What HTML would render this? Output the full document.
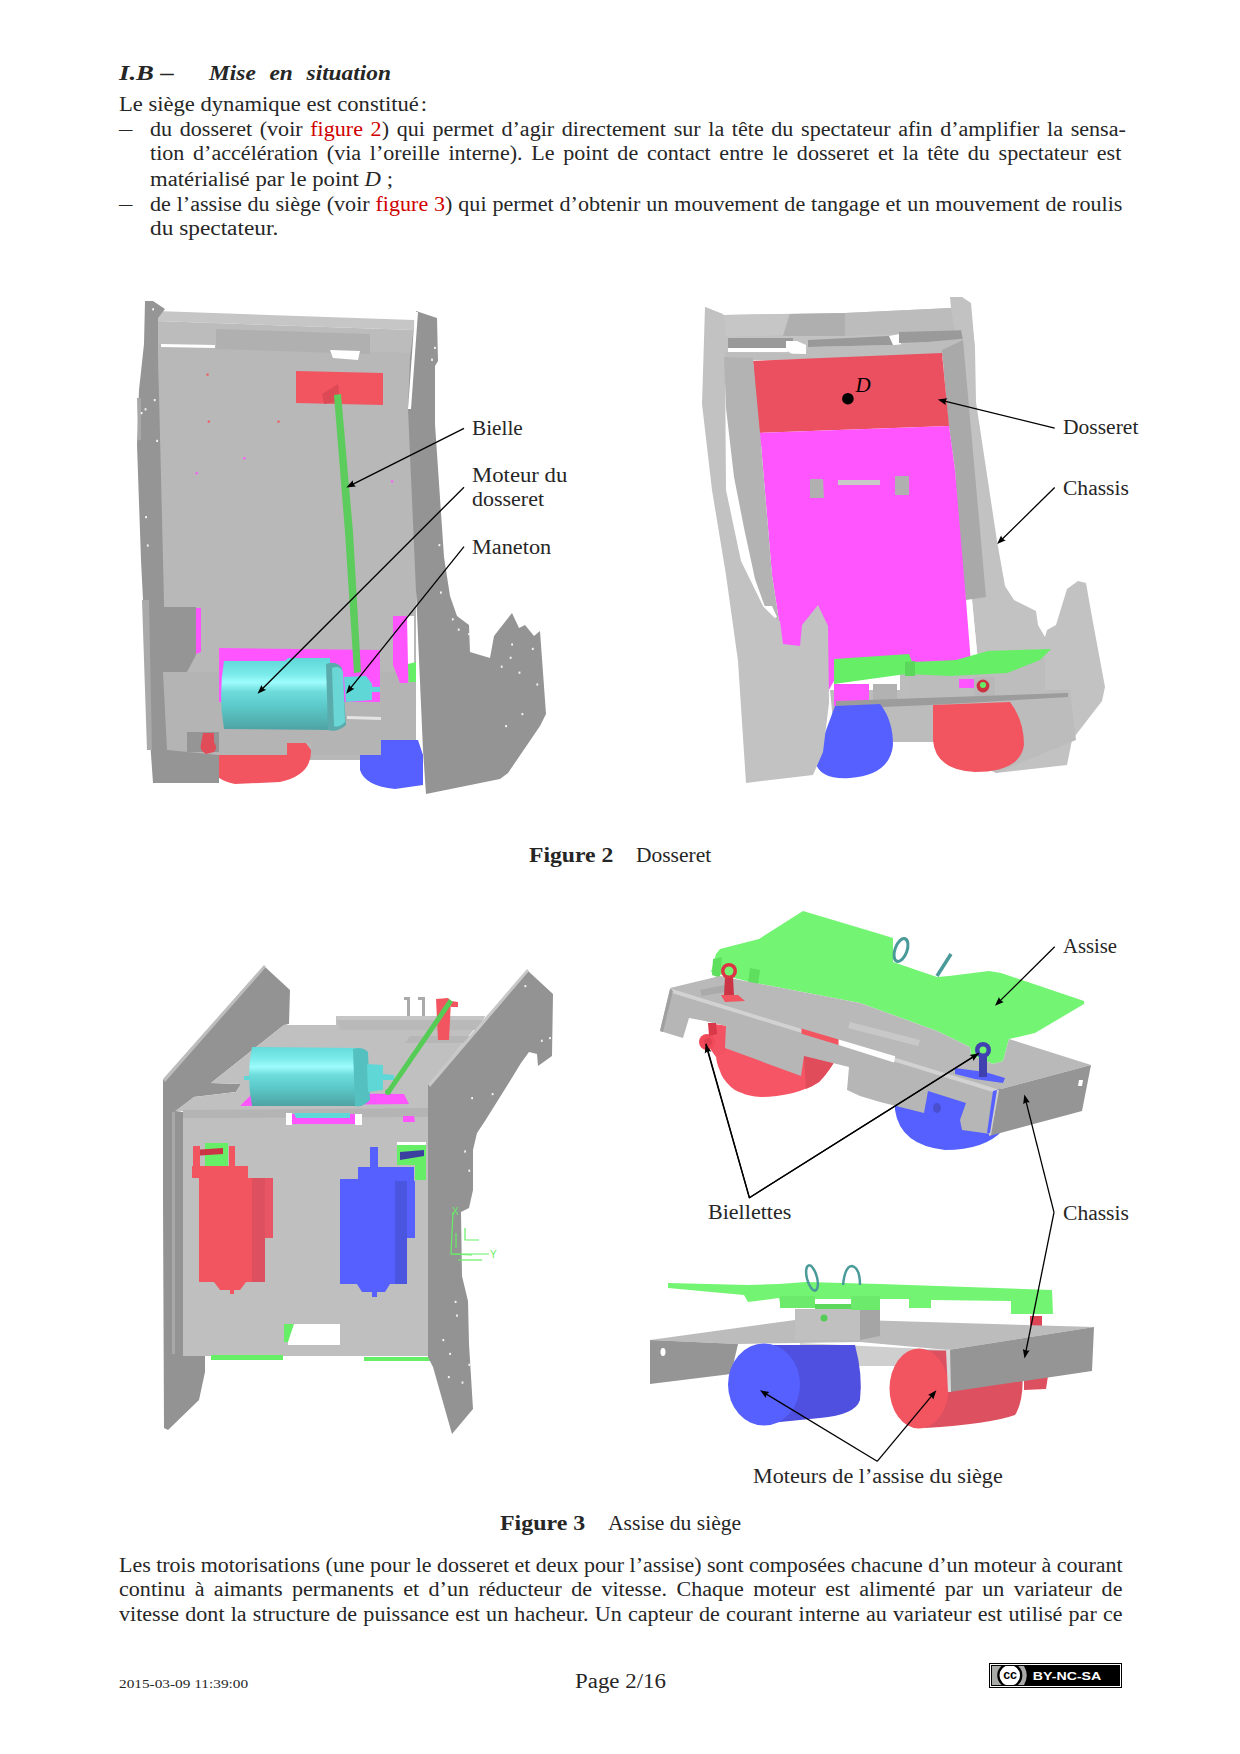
<!DOCTYPE html>
<html><head><meta charset="utf-8"><style>
html,body{margin:0;padding:0;background:#fff;}
body{width:1240px;height:1754px;position:relative;overflow:hidden;font-family:"Liberation Serif",serif;color:#262626;}
.t{position:absolute;white-space:nowrap;line-height:1;transform-origin:0 0;}
.bi{font-weight:bold;font-style:italic;}
.sp{word-spacing:3px;}
.r{color:#d00000;}
.cc{position:absolute;left:989px;top:1663px;width:133px;height:25px;background:#000;}
svg{position:absolute;left:0;top:0;}
</style></head><body>
<svg width="1240" height="1754" viewBox="0 0 1240 1754"><defs>
<linearGradient id="cy1" gradientUnits="userSpaceOnUse" x1="0" y1="660" x2="0" y2="730">
<stop offset="0" stop-color="#62d9d9"/><stop offset="0.2" stop-color="#7aeaea"/><stop offset="0.32" stop-color="#9dfcfc"/><stop offset="0.45" stop-color="#6fdcdc"/><stop offset="0.65" stop-color="#5ccaca"/><stop offset="1" stop-color="#4fa3a3"/></linearGradient>
<linearGradient id="cy2" gradientUnits="userSpaceOnUse" x1="0" y1="1046" x2="0" y2="1106">
<stop offset="0" stop-color="#62d9d9"/><stop offset="0.2" stop-color="#7aeaea"/><stop offset="0.35" stop-color="#9dfcfc"/><stop offset="0.48" stop-color="#6fdcdc"/><stop offset="0.68" stop-color="#5ccaca"/><stop offset="1" stop-color="#4fa3a3"/></linearGradient>
</defs>
<polygon fill="#b8b8b8" points="158,343 416,352 416,760 160,760"/>
<polygon fill="#c6c6c6" points="157,311 414,320 414,330 157,321"/>
<polygon fill="#bcbcbc" points="157,321 414,330 414,353 157,344"/>
<polygon fill="#b0b0b0" points="216,329 370,334 370,354 216,349"/>
<polygon fill="#fff" points="161,344 215,345 215,348 161,347"/>
<polygon fill="#fff" points="330,350 360,351 358,360 333,358"/>
<path fill="#f25560" d="M200,735 L215,733 L225,742 L305,742 L311,750 Q312,775 280,782 L235,784 Q212,780 208,760 Z"/>
<path fill="#5560ff" d="M360,755 L375,755 L376,740 L418,740 L423,755 L423,785 L395,789 Q365,786 360,770 Z"/>
<polygon fill="#959595" points="145,301 153,301 165,309 158,318 158,352 163,560 167,732 219,732 219,783 153,783 150,740 141,560 137,445 139,390 144,344"/>
<polygon fill="#a8a8a8" points="137,398 141,398 141,440 138,440"/>
<polygon fill="#a9a9a9" points="142,600 149,600 152,750 147,750"/>
<polygon fill="#b4b4b4" points="163,672 416,672 416,740 381,740 381,755 311,755 311,743 287,743 287,755 219,755 167,750"/>
<polygon fill="#959595" points="164,607 196,607 196,655 187,672 164,672"/>
<polygon fill="#959595" points="187,732 219,732 219,752 187,752"/>
<polygon fill="#b4b4b4" points="167,732 187,732 187,750 167,750"/>
<path fill="#e04c58" d="M203,733 L214,733 L214,742 Q218,748 214,752 L206,754 Q199,750 201,744 Z"/>
<polygon fill="#ff55ff" points="196,608 201,608 201,652 196,654"/>
<polygon fill="#ff55ff" points="219,648 380,650 380,702 219,702"/>
<polygon fill="#ff55ff" points="393,616 408,616 408,683 400,683 393,665"/>
<polygon fill="#fff" points="407,616 414,616 414,665 408,665"/>
<polygon fill="#66ee66" points="408,664 416,662 416,682 409,682"/>
<polygon fill="#f25560" points="296,371 383,373 383,405 296,403"/>
<polygon fill="#dd4a55" points="322,394 338,384 340,401 324,404"/>
<polygon fill="#5ccc5c" points="334,395 341,394 353,532 361,672 354,673 345,532"/>
<path fill="url(#cy1)" d="M224,661 L285,661 L288,658 L330,658 L332,730 L224,729 Q218,696 224,661 Z"/>
<path fill="#5aacac" d="M326,664 Q336,660 342,668 L346,725 Q337,733 328,730 Z"/>
<path fill="#6ad6d6" d="M332,668 Q340,665 343,672 L345,722 Q339,728 334,726 Z"/>
<polygon fill="#5fd7d7" points="344,677 366,676 372,684 372,700 346,702"/>
<polygon fill="#5fd7d7" points="346,686 380,687 380,692 346,692"/>
<polygon fill="#e4e4e4" points="347,716 381,717 381,720 347,719"/>
<polygon fill="#949494" points="416,311 437,318 438,361 435,366 435,424 444,557 450,596 457,616 469,625 470,652 490,658 494,636 512,613 519,628 525,625 534,636 540,631 546,714 540,726 508,773 500,779 426,794 423,750 408,409 410,358"/>
<polygon fill="#fff" points="415,312 418,312 411,409 408,409"/>
<rect x="431.1" y="358.7" width="1.8" height="2.2" fill="#f4f4f4"/>
<rect x="434.1" y="346.8" width="1.8" height="2.2" fill="#f4f4f4"/>
<rect x="438.5" y="544.0" width="1.8" height="2.2" fill="#f4f4f4"/>
<rect x="440.0" y="591.5" width="1.8" height="2.2" fill="#f4f4f4"/>
<rect x="451.9" y="618.2" width="1.8" height="2.2" fill="#f4f4f4"/>
<rect x="457.8" y="628.6" width="1.8" height="2.2" fill="#f4f4f4"/>
<rect x="468.2" y="633.0" width="1.8" height="2.2" fill="#f4f4f4"/>
<rect x="511.2" y="643.4" width="1.8" height="2.2" fill="#f4f4f4"/>
<rect x="509.7" y="656.7" width="1.8" height="2.2" fill="#f4f4f4"/>
<rect x="531.9" y="647.8" width="1.8" height="2.2" fill="#f4f4f4"/>
<rect x="521.5" y="713.0" width="1.8" height="2.2" fill="#f4f4f4"/>
<rect x="505.2" y="725.0" width="1.8" height="2.2" fill="#f4f4f4"/>
<rect x="500.8" y="665.6" width="1.8" height="2.2" fill="#f4f4f4"/>
<rect x="536.4" y="683.4" width="1.8" height="2.2" fill="#f4f4f4"/>
<rect x="518.6" y="671.6" width="1.8" height="2.2" fill="#f4f4f4"/>
<rect x="152.2" y="308.2" width="1.8" height="2.2" fill="#f4f4f4"/>
<rect x="153.8" y="399.0" width="1.8" height="2.2" fill="#f4f4f4"/>
<rect x="144.6" y="408.2" width="1.8" height="2.2" fill="#f4f4f4"/>
<rect x="140.7" y="412.0" width="1.8" height="2.2" fill="#f4f4f4"/>
<rect x="156.2" y="439.8" width="1.8" height="2.2" fill="#f4f4f4"/>
<rect x="145.2" y="516.0" width="1.8" height="2.2" fill="#f4f4f4"/>
<rect x="146.9" y="544.4" width="1.8" height="2.2" fill="#f4f4f4"/>
<rect x="206.4" y="373.6" width="2.2" height="2" fill="#f25560"/>
<rect x="207.7" y="420.6" width="2.2" height="2" fill="#f25560"/>
<rect x="277.4" y="420.6" width="2.2" height="2" fill="#f25560"/>
<rect x="243.3" y="457.3" width="2.2" height="2" fill="#ff55ff"/>
<rect x="195.6" y="472.2" width="2.2" height="2" fill="#ff55ff"/>
<rect x="391.0" y="480.5" width="2.2" height="2" fill="#ff55ff"/>
<polygon fill="#c2c2c2" points="705,307 724,315 845,313 951,308 950,297 962,297 971,303 975,349 725,358"/>
<polygon fill="#c6c6c6" points="724,315 787,314 784,335 726,337"/>
<polygon fill="#afafaf" points="790,314 845,313 845,336 783,336"/>
<polygon fill="#bcbcbc" points="845,313 951,308 955,332 845,336"/>
<polygon fill="#9a9a9a" points="728,338 793,338 793,348 728,348"/>
<polygon fill="#fff" points="728,348 786,348 788,352 728,352"/>
<polygon fill="#fff" points="786,341 797,341 806,345 806,354 792,354 786,350"/>
<polygon fill="#999999" points="808,340 888,336 894,337 894,345 808,347"/>
<polygon fill="#fff" points="889,336 900,334 901,345 893,345"/>
<polygon fill="#9a9a9a" points="899,332 971,330 971,338 960,341 899,343"/>
<polygon fill="#bdbdbd" points="725,352 806,354 808,347 894,345 971,338 975,349 975,356 725,361"/>
<polygon fill="#c2c2c2" points="951,297 970,303 975,349 976,402 997,541 1005,586 1014,600 1036,611 1038,625 1045,637 1047,630 1056,625 1067,589 1078,581 1086,583 1092,617 1105,687 1102,701 1072,740 1067,765 996,773 990,700 977,652 972,600 963,340 955,300"/>
<polygon fill="#a9a9a9" points="942,350 963,340 986,597 966,600 960,560 955,470 948,420"/>
<polygon fill="#fff" points="966,600 972,600 977,652 971,652"/>
<polygon fill="#c2c2c2" points="985,599 991,599 994,652 988,652"/>
<polygon fill="#bcbcbc" points="830,690 1070,690 1076,740 996,773 933,742 835,742"/>
<polygon fill="#ea5060" points="753,361 942,353 949,426 758,433"/>
<polygon fill="#ff55ff" points="758,433 949,426 955,470 966,600 971,664 840,670 820,706 770,706 779,621 772,575 761,444"/>
<polygon fill="#b0b0b0" points="810,479 823,479 824,498 810,498"/>
<polygon fill="#b0b0b0" points="895,476 909,476 909,495 895,495"/>
<polygon fill="#c8c8c8" points="838,480 880,480 880,485 838,485"/>
<polygon fill="#bdbdbd" points="900,672 1045,658 1045,700 900,700"/>
<polygon fill="#66ee66" points="834,659 909,654 912,662 956,660 988,651 1051,649 1040,660 1007,673 950,676 906,674 834,684"/>
<polygon fill="#5bd85b" points="905,662 915,661 915,676 905,676"/>
<polygon fill="#bcbcbc" points="909,676 958,676 960,700 909,700"/>
<polygon fill="#ff55ff" points="959,679 974,679 974,688 959,688"/>
<polygon fill="#b8b8b8" points="974,677 995,677 995,698 974,698"/>
<polygon fill="#b2b2b2" points="873,684 897,684 897,700 873,700"/>
<polygon fill="#ff55ff" points="834,684 869,684 869,706 834,706"/>
<polygon fill="#9c9c9c" points="836,701 1068,693 1068,697 930,705 836,709"/>
<path fill="#5560ff" d="M835,706 L880,704 Q893,720 893,745 Q890,775 850,778 Q818,780 815,760 Z"/>
<path fill="#f25560" d="M933,705 L1010,702 Q1024,720 1024,745 Q1020,772 975,772 Q935,770 933,740 Z"/>
<circle cx="983" cy="686" r="6.4" fill="#cc3340"/><circle cx="983" cy="685" r="3" fill="#66ee66"/>
<polygon fill="#c2c2c2" points="705,307 723,314 725,358 726,490 741,561 763,606 775,618 780,621 783,644 800,646 802,625 818,605 828,626 829,703 823,752 813,775 746,783 738,661 726,575 712,490 702,404"/>
<polygon fill="#b3b3b3" points="724,357 753,358 761,444 772,575 779,621 775,618 765,607 755,579 744,528 734,477 726,408"/>
<polygon fill="#fff" points="763,606 772,606 777,617 775,618"/>
<circle cx="847.9" cy="398.7" r="5.8" fill="#000"/>
<text x="855.5" y="392" font-family="Liberation Serif" font-style="italic" font-size="21" fill="#000">D</text>
<polygon fill="#939393" points="264,966 290,990 289,1024 284,1025 211,1083 241,1084 236,1092 194,1097 176,1111 183,1112 183,1354 205,1354 205,1372 199,1400 168,1430 164,1428 163,1200 163,1080"/>
<polygon fill="#bdbdbd" points="163,1079 264,965 266,967 165,1082"/>
<polygon fill="#a8a8a8" points="172,1112 175,1112 175,1354 172,1354"/>
<polygon fill="#c0c0c0" points="175,1111 194,1097 236,1092 241,1084 211,1083 284,1025 336,1025 336,1016 485,1016 429,1085 429,1112"/>
<polygon fill="#b9b9b9" points="336,1016 485,1016 478,1030 340,1030"/>
<polygon fill="#c6c6c6" points="336,1016 485,1016 483,1020 337,1020"/>
<polygon fill="#b6b6b6" points="410,1036 470,1036 465,1043 405,1043"/>
<polygon fill="#aaaaaa" points="404,997 410,997 410,1016 407,1016 407,1000 404,1000"/>
<polygon fill="#aaaaaa" points="418,997 425,997 425,1016 422,1016 422,1000 418,1000"/>
<polygon fill="#f25560" points="436,999 448,998 451,1001 449,1040 438,1040"/>
<polygon fill="#f25560" points="451,1001 458,1002 458,1007 451,1007"/>
<polygon fill="#bfbfbf" points="183,1112 429,1112 429,1356 183,1356"/>
<polygon fill="#b4b4b4" points="183,1110 429,1108 429,1117 183,1118"/>
<polygon fill="#fff" points="288,1324 340,1324 340,1345 288,1345"/>
<polygon fill="#66ee66" points="284,1324 294,1324 288,1342 284,1342"/>
<polygon fill="#66ee66" points="211,1355 283,1355 283,1360 211,1360"/>
<polygon fill="#66ee66" points="364,1357 430,1357 430,1361 364,1361"/>
<polygon fill="#ff55ff" points="240,1106 253,1093 404,1094 409,1104"/>
<polygon fill="#ff55ff" points="289,1114 360,1114 357,1124 291,1124"/>
<polygon fill="#5fd7d7" points="294,1113 350,1113 350,1118 296,1118"/>
<polygon fill="#fff" points="286,1113 292,1113 292,1125 286,1125"/>
<polygon fill="#fff" points="355,1114 362,1114 362,1125 355,1125"/>
<polygon fill="#ff55ff" points="403,1116 414,1116 415,1122 403,1122"/>
<path fill="url(#cy2)" d="M252,1047 L360,1048 L362,1106 L252,1106 Q246,1076 252,1047 Z"/>
<path fill="#55c0c0" d="M353,1049 Q362,1046 368,1052 L370,1100 Q362,1108 355,1106 Z"/>
<polygon fill="#5fd7d7" points="367,1064 383,1065 383,1090 368,1092"/>
<polygon fill="#5fd7d7" points="383,1074 394,1075 394,1080 383,1080"/>
<polygon fill="#5fd7d7" points="244,1076 250,1076 250,1080 244,1080"/>
<polygon fill="#55cc55" points="449,999 453,1002 390,1094 386,1091"/>
<circle cx="388" cy="1092" r="3" fill="#55cc55"/>
<polygon fill="#939393" points="527,970 553,994 552,1056 538,1066 537,1054 529,1052 521,1063 510,1081 485,1121 477,1133 473,1150 469,1168 473,1150 473,1190 469,1208 461,1212 462,1276 468,1301 469,1344 473,1409 452,1434 433,1367 428,1357 428,1085"/>
<polygon fill="#c8c8c8" points="428,1084 527,969 529,971 430,1087"/>
<polygon fill="#f25560" points="192,1166 248,1166 248,1178 192,1178"/>
<polygon fill="#f25560" points="199,1178 265,1178 265,1282 199,1282"/>
<polygon fill="#dd5060" points="252,1178 265,1178 265,1282 252,1282"/>
<polygon fill="#e85565" points="265,1178 273,1178 273,1238 265,1238"/>
<polygon fill="#f25560" points="229,1146 235,1146 235,1166 229,1166"/>
<polygon fill="#f25560" points="214,1282 246,1282 240,1290 220,1290"/>
<polygon fill="#f25560" points="230,1282 234,1282 234,1294 230,1294"/>
<polygon fill="#66ee66" points="205,1143 228,1143 228,1166 205,1166"/>
<polygon fill="#cc3344" points="193,1150 223,1148 223,1154 193,1156"/>
<polygon fill="#f25560" points="193,1146 200,1146 200,1166 193,1166"/>
<polygon fill="#5560ff" points="358,1167 414,1167 414,1181 358,1181"/>
<polygon fill="#5560ff" points="340,1179 407,1179 407,1284 340,1284"/>
<polygon fill="#4a55e0" points="395,1181 407,1181 407,1284 395,1284"/>
<polygon fill="#5560ff" points="407,1181 415,1181 415,1238 407,1238"/>
<polygon fill="#5560ff" points="370,1147 378,1147 378,1168 370,1168"/>
<polygon fill="#5560ff" points="357,1284 390,1284 385,1292 362,1292"/>
<polygon fill="#5560ff" points="372,1284 377,1284 377,1297 372,1297"/>
<polygon fill="#fff" points="397,1142 426,1142 426,1145 397,1145"/>
<polygon fill="#66ee66" points="397,1145 426,1145 426,1180 415,1180 415,1165 397,1165"/>
<polygon fill="#3a3fa0" points="400,1152 424,1150 424,1156 400,1160"/>
<g stroke="#66ee66" stroke-width="1.2" fill="none"><polyline points="453,1212 451,1254 472,1255"/><line x1="451" y1="1254" x2="489" y2="1254"/><polyline points="465,1228 465,1240 479,1240"/><line x1="456" y1="1233" x2="456" y2="1248"/><line x1="458" y1="1260" x2="482" y2="1260"/></g>
<text x="452" y="1215" font-family="Liberation Sans" font-size="10" fill="#66ee66">X</text><text x="490" y="1258" font-family="Liberation Sans" font-size="10" fill="#66ee66">Y</text>
<rect x="524.5" y="985.0" width="1.8" height="2.2" fill="#f4f4f4"/>
<rect x="540.9" y="1039.7" width="1.8" height="2.2" fill="#f4f4f4"/>
<rect x="549.1" y="1037.0" width="1.8" height="2.2" fill="#f4f4f4"/>
<rect x="491.7" y="1093.0" width="1.8" height="2.2" fill="#f4f4f4"/>
<rect x="471.2" y="1097.0" width="1.8" height="2.2" fill="#f4f4f4"/>
<rect x="464.2" y="1150.4" width="1.8" height="2.2" fill="#f4f4f4"/>
<rect x="468.4" y="1169.6" width="1.8" height="2.2" fill="#f4f4f4"/>
<rect x="454.7" y="1300.8" width="1.8" height="2.2" fill="#f4f4f4"/>
<rect x="456.1" y="1314.5" width="1.8" height="2.2" fill="#f4f4f4"/>
<rect x="442.4" y="1339.0" width="1.8" height="2.2" fill="#f4f4f4"/>
<rect x="447.9" y="1376.0" width="1.8" height="2.2" fill="#f4f4f4"/>
<rect x="461.6" y="1381.5" width="1.8" height="2.2" fill="#f4f4f4"/>
<rect x="468.4" y="1363.7" width="1.8" height="2.2" fill="#f4f4f4"/>
<rect x="449.2" y="1352.8" width="1.8" height="2.2" fill="#f4f4f4"/>
<path fill="#f65565" d="M714,1024 L729,1026 L838,1040 L838,1049 Q836,1058 833,1064 Q826,1075 819,1082 Q805,1090 793,1093 Q775,1097 761,1097 Q748,1096 742,1093 Q733,1090 729,1085 Q722,1078 720,1071 Q716,1062 716,1055 L716,1049 Z"/>
<path fill="#e04c5a" d="M803,1040 L838,1044 L838,1049 Q836,1058 833,1064 Q826,1075 819,1082 Q812,1087 806,1089 Z"/>
<path fill="#5560ff" d="M895,1097 L930,1088 L1000,1082 L1003,1130 Q985,1150 945,1150 Q900,1145 895,1110 Z"/>
<ellipse cx="937" cy="1108" rx="4" ry="5" fill="#4a4fd0"/>
<polygon fill="#73f573" points="803,911 880,934 893,938 893,962 937,977 949,976 989,971 1001,973 1084,1001 1084,1004 1035,1033 1009,1039 1003,1061 993,1064 971,1055 970,1047 937,1031 860,1003 750,982 711,972 716,954 720,949 759,939"/>
<polygon fill="#5ee05e" points="713,959 722,957 720,978 712,975"/>
<polygon fill="#5ee05e" points="750,968 760,970 758,985 748,983"/>
<polygon fill="#b9b9b9" points="670,988 720,976 750,982 860,1003 937,1031 970,1047 971,1055 993,1064 1003,1061 1009,1039 1091,1065 997,1090 860,1048 672,991"/>
<polygon fill="#aaaaaa" points="700,990 725,985 726,992 702,996"/>
<polygon fill="#c8c8c8" points="850,1022 920,1040 918,1046 848,1028"/>
<polygon fill="#5560ff" points="955,1068 985,1072 1005,1078 1003,1083 975,1079 955,1074"/>
<polygon fill="#b6b6b6" points="670,989 860,1048 997,1090 991,1134 962,1130 960,1120 966,1103 928,1091 924,1113 880,1102 860,1096 847,1090 849,1067 804,1056 801,1076 725,1048 726,1026 705,1021 689,1018 683,1038 660,1031"/>
<polygon fill="#d2d2d2" points="672,989 860,1047 997,1089 996,1093 860,1051 672,993"/>
<polygon fill="#f25560" points="801.5,1028.6 838.7,1039.6 838.7,1045 801.5,1033.7"/>
<polygon fill="#ffffff" points="838.7,1039.6 895.2,1056.3 894,1062.5 838.7,1045"/>
<polygon fill="#a0a0a0" points="660,1031 670,989 673,991 663,1032"/>
<polygon fill="#959595" points="997,1090 1091,1065 1082,1111 989,1136"/>
<polygon fill="#d0d0d0" points="996,1090 999,1090 991,1135 989,1136"/>
<polygon fill="#5560ff" points="993,1091 997,1090 990,1133 987,1133"/>
<polygon fill="#fff" points="1079,1080 1083,1080 1082,1086 1078,1086"/>
<circle cx="729" cy="971" r="8" fill="#dd3344"/><circle cx="729" cy="971" r="4.5" fill="#73f573"/>
<polygon fill="#cc3344" points="725,978 733,978 734,995 724,995"/>
<polygon fill="#f25560" points="721,995 738,995 745,1001 725,1002"/>
<polygon fill="#f25262" points="710,1024 725,1027 725,1053 716,1057 711,1050"/>
<circle cx="707" cy="1042" r="8" fill="#f04a5a"/><circle cx="708" cy="1042" r="4" fill="#e04050"/>
<polygon fill="#d83848" points="708,1023 716,1023 717,1034 709,1036"/>
<circle cx="983" cy="1050" r="8" fill="#4040b0"/><circle cx="983" cy="1050" r="3.5" fill="#73f573"/>
<polygon fill="#4040b0" points="979,1057 987,1057 987,1077 979,1077"/>
<ellipse cx="901" cy="950" rx="6" ry="12" fill="none" stroke="#4a9a9a" stroke-width="3" transform="rotate(20 901 950)"/>
<line x1="937" y1="976" x2="951" y2="954" stroke="#4a9a9a" stroke-width="3.5"/>
<polygon fill="#dd5060" points="1024,1378 1048,1376 1046,1389 1024,1390"/>
<polygon fill="#dd4455" points="1030,1316 1042,1316 1042,1330 1030,1330"/>
<polygon fill="#bcbcbc" points="650,1340 795,1320 860,1320 1094,1327 948,1350 860,1342 738,1344"/>
<polygon fill="#959595" points="650,1340 738,1344 731,1374 650,1384"/>
<ellipse cx="663" cy="1352" rx="2.5" ry="4" fill="#fff"/>
<polygon fill="#cfcfcf" points="800,1343 948,1350 948,1366 860,1366 800,1360"/>
<polygon fill="#c0c0c0" points="795,1309 860,1309 860,1340 795,1340"/>
<polygon fill="#a5a5a5" points="860,1308 880,1305 880,1336 860,1340"/>
<circle cx="824" cy="1318" r="3.5" fill="#55cc55"/>
<polygon fill="#73f573" points="668,1283 748,1285 779,1284 806,1282 880,1284 1052,1290 1053,1314 1011,1314 1011,1301 931,1300 931,1308 909,1308 909,1299 880,1299 860,1299 814,1308 781,1308 779,1298 748,1302 744,1295 668,1288"/>
<polygon fill="#6cea6c" points="780,1296 815,1296 815,1308 780,1308"/>
<polygon fill="#ffffff" points="815,1299 851,1299 851,1304 815,1304"/>
<polygon fill="#5cd85c" points="815,1304 851,1304 851,1309 815,1309"/>
<polygon fill="#6cea6c" points="851,1296 880,1296 880,1310 851,1310"/>
<ellipse cx="812" cy="1278" rx="5" ry="13" fill="none" stroke="#4a9a9a" stroke-width="2.5" transform="rotate(-15 812 1278)"/>
<path d="M843,1285 Q845,1266 852,1266 Q860,1268 860,1285" fill="none" stroke="#4a9a9a" stroke-width="2.5"/>
<path fill="#5050e0" d="M764,1345 L855,1345 Q863,1375 860,1400 Q855,1415 820,1418 L770,1423 Z"/>
<ellipse cx="764" cy="1384.5" rx="36" ry="41" fill="#5560ff"/>
<path fill="#dd5060" d="M918,1350 L1000,1352 L1022,1365 Q1025,1400 1015,1415 Q990,1424 925,1428 Z"/>
<ellipse cx="919" cy="1388.5" rx="29.5" ry="40" fill="#f25560"/>
<polygon fill="#959595" points="948,1350 1094,1327 1092,1371 949,1392"/>
<polygon fill="#d8d8d8" points="946,1350 950,1349 951,1392 948,1392"/>
<line x1="464.0" y1="428.4" x2="352.6" y2="484.3" stroke="#000" stroke-width="1.3"/>
<path fill="#000" d="M346.3,487.4 L352.8,480.3 Q352.6,484.3 355.9,486.4 Z"/>
<line x1="464.0" y1="487.2" x2="262.4" y2="688.8" stroke="#000" stroke-width="1.3"/>
<path fill="#000" d="M257.5,693.7 L261.5,684.9 Q262.4,688.8 266.3,689.7 Z"/>
<line x1="464.0" y1="546.7" x2="350.5" y2="688.2" stroke="#000" stroke-width="1.3"/>
<path fill="#000" d="M346.1,693.7 L349.1,684.6 Q350.5,688.2 354.4,688.8 Z"/>
<line x1="1054.7" y1="428.2" x2="944.6" y2="401.1" stroke="#000" stroke-width="1.3"/>
<path fill="#000" d="M937.8,399.4 L947.4,398.3 Q944.6,401.1 945.7,404.9 Z"/>
<line x1="1054.7" y1="487.5" x2="1002.1" y2="539.2" stroke="#000" stroke-width="1.3"/>
<path fill="#000" d="M997.1,544.1 L1001.1,535.4 Q1002.1,539.2 1005.9,540.2 Z"/>
<line x1="1054.7" y1="946.8" x2="1000.0" y2="1000.9" stroke="#000" stroke-width="1.3"/>
<path fill="#000" d="M995.0,1005.8 L999.0,997.1 Q1000.0,1000.9 1003.8,1001.9 Z"/>
<polyline fill="none" stroke="#000" stroke-width="1.3" stroke-linejoin="miter" points="706,1043.8 749.4,1197.7 979,1053.2"/>
<line x1="749.4" y1="1197.7" x2="707.5" y2="1050.5" stroke="#000" stroke-width="1.3"/>
<path fill="#000" d="M705.6,1043.8 L711.3,1051.5 Q707.5,1050.5 704.8,1053.4 Z"/>
<line x1="749.4" y1="1197.7" x2="973.1" y2="1056.9" stroke="#000" stroke-width="1.3"/>
<path fill="#000" d="M979.0,1053.2 L973.2,1060.9 Q973.1,1056.9 969.6,1055.1 Z"/>
<line x1="1054.0" y1="1212.4" x2="1026.0" y2="1101.4" stroke="#000" stroke-width="1.3"/>
<path fill="#000" d="M1024.3,1094.6 L1029.8,1102.5 Q1026.0,1101.4 1023.2,1104.2 Z"/>
<line x1="1054.0" y1="1212.4" x2="1025.9" y2="1351.5" stroke="#000" stroke-width="1.3"/>
<path fill="#000" d="M1024.5,1358.4 L1022.9,1348.9 Q1025.9,1351.5 1029.6,1350.3 Z"/>
<line x1="877.2" y1="1461.3" x2="766.0" y2="1393.9" stroke="#000" stroke-width="1.3"/>
<path fill="#000" d="M760.0,1390.3 L769.5,1392.1 Q766.0,1393.9 765.9,1397.9 Z"/>
<line x1="877.2" y1="1461.3" x2="931.9" y2="1395.7" stroke="#000" stroke-width="1.3"/>
<path fill="#000" d="M936.4,1390.3 L933.2,1399.4 Q931.9,1395.7 928.0,1395.0 Z"/></svg>
<div class="t bi" id="l0" style="left:119.0px;top:62.6px;font-size:20.83px;transform:scaleX(1.2842);">I.B –</div>
<div class="t bi" id="l1" style="left:209.0px;top:62.6px;font-size:20.83px;transform:scaleX(1.1224);"><span style="word-spacing:7px">Mise en situation</span></div>
<div class="t " id="l2" style="left:118.5px;top:93.8px;font-size:20.83px;transform:scaleX(1.0845);">Le siège dynamique est constitué&#8202;:</div>
<div class="t " id="l3" style="left:119.4px;top:118.6px;font-size:20.83px;transform:scaleX(1.2762);">–</div>
<div class="t j" id="l4" style="left:149.7px;top:118.6px;font-size:20.83px;transform:scaleX(1.0600);word-spacing:2.00px;">du dosseret (voir <span class="r">figure 2</span>) qui permet d’agir directement sur la tête du spectateur afin d’amplifier la sensa-</div>
<div class="t j" id="l5" style="left:149.7px;top:143.4px;font-size:20.83px;transform:scaleX(1.0600);word-spacing:3.01px;">tion d’accélération (via l’oreille interne). Le point de contact entre le dosseret et la tête du spectateur est</div>
<div class="t " id="l6" style="left:149.7px;top:168.8px;font-size:20.83px;transform:scaleX(1.0912);">matérialisé par le point <i>D</i>&nbsp;;</div>
<div class="t " id="l7" style="left:119.4px;top:193.6px;font-size:20.83px;transform:scaleX(1.2762);">–</div>
<div class="t j" id="l8" style="left:149.7px;top:193.6px;font-size:20.83px;transform:scaleX(1.0600);word-spacing:0.32px;">de l’assise du siège (voir <span class="r">figure 3</span>) qui permet d’obtenir un mouvement de tangage et un mouvement de roulis</div>
<div class="t " id="l9" style="left:149.7px;top:218.4px;font-size:20.83px;transform:scaleX(1.1204);">du spectateur.</div>
<div class="t " id="l10" style="left:471.5px;top:418.4px;font-size:20.83px;transform:scaleX(1.0211);">Bielle</div>
<div class="t " id="l11" style="left:471.5px;top:464.6px;font-size:20.83px;transform:scaleX(1.0909);">Moteur du</div>
<div class="t " id="l12" style="left:471.5px;top:489.4px;font-size:20.83px;transform:scaleX(1.0547);">dosseret</div>
<div class="t " id="l13" style="left:471.5px;top:536.6px;font-size:20.83px;transform:scaleX(1.0696);">Maneton</div>
<div class="t " id="l14" style="left:1062.7px;top:417.2px;font-size:20.83px;transform:scaleX(1.0344);">Dosseret</div>
<div class="t " id="l15" style="left:1062.7px;top:477.7px;font-size:20.83px;transform:scaleX(1.0337);">Chassis</div>
<div class="t " id="l16" style="left:528.6px;top:844.6px;font-size:20.83px;transform:scaleX(1.1354);"><b>Figure 2</b></div>
<div class="t " id="l17" style="left:635.6px;top:844.6px;font-size:20.83px;transform:scaleX(1.0317);">Dosseret</div>
<div class="t " id="l18" style="left:1063.0px;top:936.4px;font-size:20.83px;transform:scaleX(0.9928);">Assise</div>
<div class="t " id="l19" style="left:707.7px;top:1202.3px;font-size:20.83px;transform:scaleX(1.0588);">Biellettes</div>
<div class="t " id="l20" style="left:1063.0px;top:1202.5px;font-size:20.83px;transform:scaleX(1.0352);">Chassis</div>
<div class="t " id="l21" style="left:752.6px;top:1466.1px;font-size:20.83px;transform:scaleX(1.0636);">Moteurs de l’assise du siège</div>
<div class="t " id="l22" style="left:499.8px;top:1513.3px;font-size:20.83px;transform:scaleX(1.1488);"><b>Figure 3</b></div>
<div class="t " id="l23" style="left:607.6px;top:1513.3px;font-size:20.83px;transform:scaleX(1.0371);">Assise du siège</div>
<div class="t j" id="l24" style="left:118.5px;top:1554.8px;font-size:20.83px;transform:scaleX(1.0534);">Les trois motorisations (une pour le dosseret et deux pour l’assise) sont composées chacune d’un moteur à courant</div>
<div class="t j" id="l25" style="left:118.5px;top:1579.4px;font-size:20.83px;transform:scaleX(1.0600);word-spacing:3.68px;">continu à aimants permanents et d’un réducteur de vitesse. Chaque moteur est alimenté par un variateur de</div>
<div class="t j" id="l26" style="left:118.5px;top:1603.9px;font-size:20.83px;transform:scaleX(1.0600);word-spacing:0.64px;">vitesse dont la structure de puissance est un hacheur. Un capteur de courant interne au variateur est utilisé par ce</div>
<div class="t " id="l27" style="left:118.9px;top:1676.9px;font-size:13.2px;transform:scaleX(1.1606);">2015-03-09 11:39:00</div>
<div class="t " id="l28" style="left:574.5px;top:1670.6px;font-size:20.83px;transform:scaleX(1.0999);">Page 2/16</div>
<svg width="1240" height="1754" style="position:absolute;left:0;top:0"><defs><clipPath id="ccc"><rect x="992" y="1666" width="127" height="19"/></clipPath></defs>
<rect x="989" y="1663" width="133" height="25" fill="#000"/>
<rect x="990.5" y="1664.5" width="130" height="22" fill="none" stroke="#fff" stroke-width="1"/>
<g clip-path="url(#ccc)">
<path d="M992,1666 L1024,1666 A19,19 0 0 1 1024,1685 L992,1685 Z" fill="#a8aaa8"/>
<circle cx="1009.8" cy="1675.4" r="11.4" fill="#fff" stroke="#000" stroke-width="2.3"/>
</g>
<text x="1010" y="1678.9" text-anchor="middle" font-family="Liberation Sans" font-weight="bold" font-size="12.5" letter-spacing="-0.2" fill="#000">cc</text>
<text x="1032.8" y="1679.8" font-family="Liberation Sans" font-weight="bold" font-size="11.8" fill="#fff" textLength="68.5" lengthAdjust="spacingAndGlyphs">BY-NC-SA</text>
</svg>
</body></html>
